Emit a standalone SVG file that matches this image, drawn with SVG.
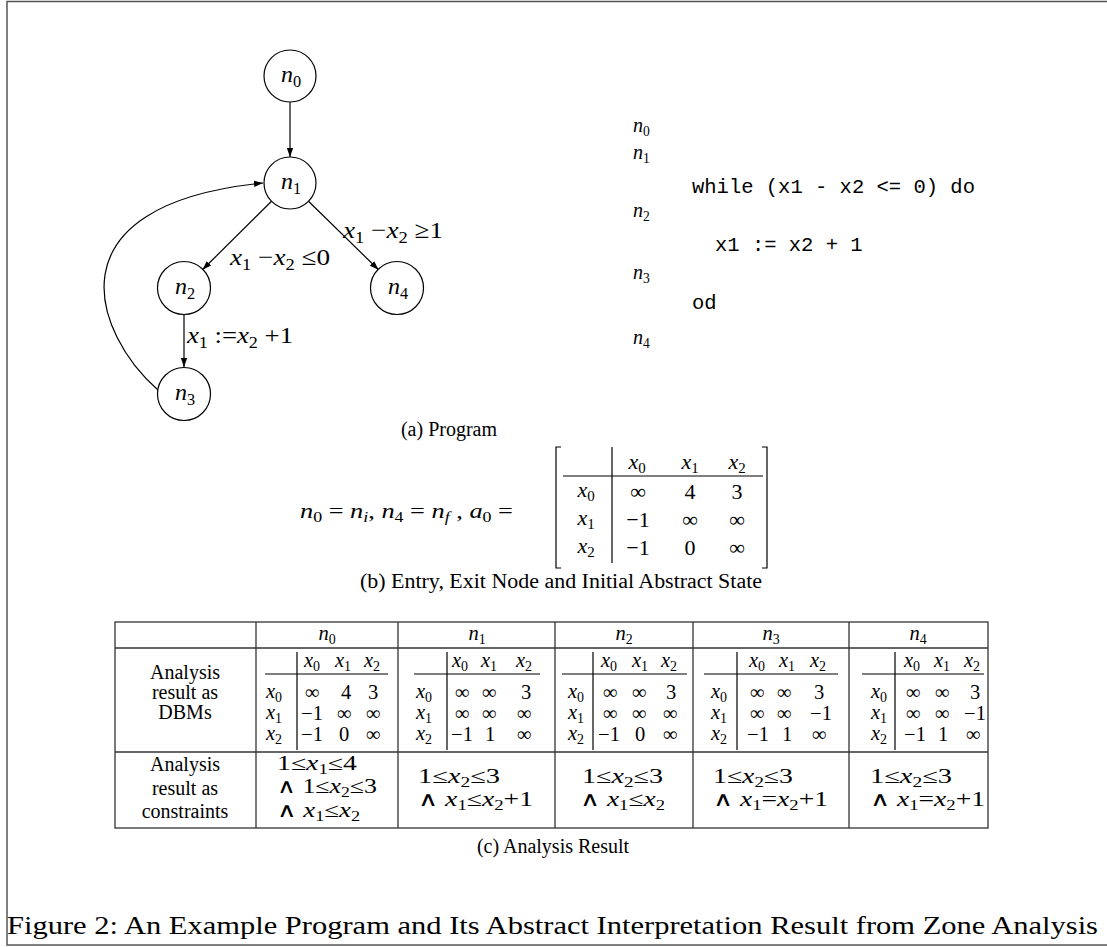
<svg xmlns="http://www.w3.org/2000/svg" width="1107" height="947" viewBox="0 0 1107 947">
<defs>
<marker id="ah" viewBox="0 0 10 10" refX="10" refY="5" markerWidth="9" markerHeight="9" markerUnits="userSpaceOnUse" orient="auto"><path d="M0,1.5 L10,5 L0,8.5 z" fill="#000"/></marker>
<style>
text{font-family:"Liberation Serif","DejaVu Serif",serif;fill:#000}
.i{font-style:italic}
.s{font-size:68%}
.g{font-size:24px}
.p{font-size:20px}
.mono{font-family:"Liberation Mono","DejaVu Sans Mono",monospace;font-size:20.5px}
.b{font-size:22px}
.tb{font-size:20.5px}
.lc{font-size:20px}
.cs{font-size:20px}
.cap{font-size:20px}
.m{text-anchor:middle}
.e{text-anchor:end}
.node{fill:#fff;stroke:#000;stroke-width:1.2}
.edge{fill:none;stroke:#000;stroke-width:1.2}
.rule{stroke:#000;stroke-width:1.2;fill:none}
.tline{stroke:#333;stroke-width:1.3;fill:none}
.frame{stroke:#555;stroke-width:1.5;fill:none}
</style>
</defs>
<rect x="0" y="0" width="1107" height="947" fill="#fff"/>
<path class="frame" d="M1107,1.5 H7 V945 H1107"/>

<!-- (a) graph -->
<g id="connectors">
<line class="edge" x1="290" y1="102" x2="290" y2="157" marker-end="url(#ah)"/>
<line class="edge" x1="271.5" y1="201.3" x2="202.5" y2="269.7" marker-end="url(#ah)"/>
<line class="edge" x1="308.5" y1="201.3" x2="378.5" y2="269.7" marker-end="url(#ah)"/>
<line class="edge" x1="184" y1="315" x2="184" y2="367" marker-end="url(#ah)"/>
<path class="edge" d="M158,390 C95,335 45,205 263,183" marker-end="url(#ah)"/>
<text class="g" x="343" y="238" textLength="100" lengthAdjust="spacingAndGlyphs"><tspan class="i">x</tspan><tspan class="s" dy="5">1</tspan><tspan dy="-5"> −</tspan><tspan class="i">x</tspan><tspan class="s" dy="5">2</tspan><tspan dy="-5"> ≥1</tspan></text>
<text class="g" x="230" y="265" textLength="100" lengthAdjust="spacingAndGlyphs"><tspan class="i">x</tspan><tspan class="s" dy="5">1</tspan><tspan dy="-5"> −</tspan><tspan class="i">x</tspan><tspan class="s" dy="5">2</tspan><tspan dy="-5"> ≤0</tspan></text>
<text class="g" x="187" y="343" textLength="106" lengthAdjust="spacingAndGlyphs"><tspan class="i">x</tspan><tspan class="s" dy="5">1</tspan><tspan dy="-5"> :=</tspan><tspan class="i">x</tspan><tspan class="s" dy="5">2</tspan><tspan dy="-5"> +1</tspan></text>
</g>
<g id="node-n0"><circle class="node" cx="290" cy="76" r="26"/><text class="g m" x="291" y="82"><tspan class="i">n</tspan><tspan class="s" dy="5">0</tspan></text></g>
<g id="node-n1"><circle class="node" cx="290" cy="183" r="26"/><text class="g m" x="291" y="189"><tspan class="i">n</tspan><tspan class="s" dy="5">1</tspan></text></g>
<g id="node-n2"><circle class="node" cx="184" cy="288" r="26.5"/><text class="g m" x="185" y="294"><tspan class="i">n</tspan><tspan class="s" dy="5">2</tspan></text></g>
<g id="node-n4"><circle class="node" cx="397" cy="288" r="26.5"/><text class="g m" x="398" y="294"><tspan class="i">n</tspan><tspan class="s" dy="5">4</tspan></text></g>
<g id="node-n3"><circle class="node" cx="184" cy="394" r="26.5"/><text class="g m" x="185" y="400"><tspan class="i">n</tspan><tspan class="s" dy="5">3</tspan></text></g>

<!-- program listing -->
<g id="program">
<text class="p" x="633" y="132"><tspan class="i">n</tspan><tspan class="s" dy="4">0</tspan></text>
<text class="p" x="633" y="159"><tspan class="i">n</tspan><tspan class="s" dy="4">1</tspan></text>
<text class="mono" x="692" y="193">while (x1 - x2 &lt;= 0) do</text>
<text class="p" x="633" y="217"><tspan class="i">n</tspan><tspan class="s" dy="4">2</tspan></text>
<text class="mono" x="715" y="251">x1 := x2 + 1</text>
<text class="p" x="633" y="279"><tspan class="i">n</tspan><tspan class="s" dy="4">3</tspan></text>
<text class="mono" x="692" y="309">od</text>
<text class="p" x="633" y="344"><tspan class="i">n</tspan><tspan class="s" dy="4">4</tspan></text>
</g>
<text class="cap m" x="449" y="436">(a) Program</text>

<!-- (b) -->
<g id="initial-state">
<text class="b" x="300" y="518" textLength="213" lengthAdjust="spacingAndGlyphs"><tspan class="i">n</tspan><tspan class="s" dy="4">0</tspan><tspan dy="-4"> = </tspan><tspan class="i">n</tspan><tspan class="s i" dy="4">i</tspan><tspan dy="-4">, </tspan><tspan class="i">n</tspan><tspan class="s" dy="4">4</tspan><tspan dy="-4"> = </tspan><tspan class="i">n</tspan><tspan class="s i" dy="4">f</tspan><tspan dy="-4"> , </tspan><tspan class="i">a</tspan><tspan class="s" dy="4">0</tspan><tspan dy="-4"> =</tspan></text>
<path class="rule" stroke-width="2" d="M561,447 H556 V568 H561"/>
<path class="rule" stroke-width="2" d="M762,447 H767 V568 H762"/>
<line class="rule" x1="612" y1="447" x2="612" y2="563"/>
<line class="rule" x1="563" y1="476" x2="763" y2="476"/>
<text class="b m" x="637" y="469"><tspan class="i">x</tspan><tspan class="s" dy="4">0</tspan></text>
<text class="b m" x="690" y="469"><tspan class="i">x</tspan><tspan class="s" dy="4">1</tspan></text>
<text class="b m" x="737" y="469"><tspan class="i">x</tspan><tspan class="s" dy="4">2</tspan></text>
<text class="b m" x="586" y="497"><tspan class="i">x</tspan><tspan class="s" dy="4">0</tspan></text>
<text class="b m" x="586" y="525"><tspan class="i">x</tspan><tspan class="s" dy="4">1</tspan></text>
<text class="b m" x="586" y="553"><tspan class="i">x</tspan><tspan class="s" dy="4">2</tspan></text>
<text class="b m" x="638" y="499">∞</text><text class="b m" x="690" y="499">4</text><text class="b m" x="737" y="499">3</text>
<text class="b m" x="638" y="527">−1</text><text class="b m" x="690" y="527">∞</text><text class="b m" x="737" y="527">∞</text>
<text class="b m" x="638" y="555">−1</text><text class="b m" x="690" y="555">0</text><text class="b m" x="737" y="555">∞</text>
</g>
<text class="cap m" x="561" y="588" textLength="402" lengthAdjust="spacingAndGlyphs">(b) Entry, Exit Node and Initial Abstract State</text>

<!-- (c) table -->
<g id="table">
<rect class="tline" x="115" y="622" width="873" height="206"/>
<line class="tline" x1="115" y1="648" x2="988" y2="648"/>
<line class="tline" x1="115" y1="752" x2="988" y2="752"/>
<line class="tline" x1="256" y1="622" x2="256" y2="828"/>
<line class="tline" x1="398" y1="622" x2="398" y2="828"/>
<line class="tline" x1="555" y1="622" x2="555" y2="828"/>
<line class="tline" x1="693" y1="622" x2="693" y2="828"/>
<line class="tline" x1="849" y1="622" x2="849" y2="828"/>
<text class="tb m" x="327" y="640"><tspan class="i">n</tspan><tspan class="s" dy="4">0</tspan></text>
<text class="tb m" x="477" y="640"><tspan class="i">n</tspan><tspan class="s" dy="4">1</tspan></text>
<text class="tb m" x="624" y="640"><tspan class="i">n</tspan><tspan class="s" dy="4">2</tspan></text>
<text class="tb m" x="771" y="640"><tspan class="i">n</tspan><tspan class="s" dy="4">3</tspan></text>
<text class="tb m" x="918" y="640"><tspan class="i">n</tspan><tspan class="s" dy="4">4</tspan></text>
<text class="lc m" x="185" y="679">Analysis</text>
<text class="lc m" x="185" y="699">result as</text>
<text class="lc m" x="185" y="719">DBMs</text>
<text class="lc m" x="185" y="771">Analysis</text>
<text class="lc m" x="185" y="795">result as</text>
<text class="lc m" x="185" y="818">constraints</text>
</g>

<g id="dbm-n0">
<line class="rule" x1="297" y1="652" x2="297" y2="750"/><line class="rule" x1="265" y1="674" x2="388" y2="674"/>
<text class="tb m" x="312" y="667"><tspan class="i">x</tspan><tspan class="s" dy="4">0</tspan></text><text class="tb m" x="343" y="667"><tspan class="i">x</tspan><tspan class="s" dy="4">1</tspan></text><text class="tb m" x="372" y="667"><tspan class="i">x</tspan><tspan class="s" dy="4">2</tspan></text>
<text class="tb m" x="274" y="698"><tspan class="i">x</tspan><tspan class="s" dy="4">0</tspan></text><text class="tb m" x="274" y="719"><tspan class="i">x</tspan><tspan class="s" dy="4">1</tspan></text><text class="tb m" x="274" y="740"><tspan class="i">x</tspan><tspan class="s" dy="4">2</tspan></text>
<text class="tb m" x="312" y="699">∞</text><text class="tb m" x="346" y="699">4</text><text class="tb m" x="373" y="699">3</text>
<text class="tb m" x="312" y="720">−1</text><text class="tb m" x="344" y="720">∞</text><text class="tb m" x="373" y="720">∞</text>
<text class="tb m" x="312" y="741">−1</text><text class="tb m" x="344" y="741">0</text><text class="tb m" x="373" y="741">∞</text>
</g>
<g id="dbm-n1">
<line class="rule" x1="447" y1="652" x2="447" y2="750"/><line class="rule" x1="414" y1="674" x2="540" y2="674"/>
<text class="tb m" x="460" y="667"><tspan class="i">x</tspan><tspan class="s" dy="4">0</tspan></text><text class="tb m" x="489" y="667"><tspan class="i">x</tspan><tspan class="s" dy="4">1</tspan></text><text class="tb m" x="524" y="667"><tspan class="i">x</tspan><tspan class="s" dy="4">2</tspan></text>
<text class="tb m" x="424" y="698"><tspan class="i">x</tspan><tspan class="s" dy="4">0</tspan></text><text class="tb m" x="424" y="719"><tspan class="i">x</tspan><tspan class="s" dy="4">1</tspan></text><text class="tb m" x="424" y="740"><tspan class="i">x</tspan><tspan class="s" dy="4">2</tspan></text>
<text class="tb m" x="462" y="699">∞</text><text class="tb m" x="489" y="699">∞</text><text class="tb m" x="526" y="699">3</text>
<text class="tb m" x="462" y="720">∞</text><text class="tb m" x="489" y="720">∞</text><text class="tb m" x="524" y="720">∞</text>
<text class="tb m" x="462" y="741">−1</text><text class="tb m" x="490" y="741">1</text><text class="tb m" x="524" y="741">∞</text>
</g>
<g id="dbm-n2">
<line class="rule" x1="593" y1="652" x2="593" y2="750"/><line class="rule" x1="562" y1="674" x2="687" y2="674"/>
<text class="tb m" x="609" y="667"><tspan class="i">x</tspan><tspan class="s" dy="4">0</tspan></text><text class="tb m" x="640" y="667"><tspan class="i">x</tspan><tspan class="s" dy="4">1</tspan></text><text class="tb m" x="669" y="667"><tspan class="i">x</tspan><tspan class="s" dy="4">2</tspan></text>
<text class="tb m" x="576" y="698"><tspan class="i">x</tspan><tspan class="s" dy="4">0</tspan></text><text class="tb m" x="576" y="719"><tspan class="i">x</tspan><tspan class="s" dy="4">1</tspan></text><text class="tb m" x="576" y="740"><tspan class="i">x</tspan><tspan class="s" dy="4">2</tspan></text>
<text class="tb m" x="610" y="699">∞</text><text class="tb m" x="639" y="699">∞</text><text class="tb m" x="671" y="699">3</text>
<text class="tb m" x="610" y="720">∞</text><text class="tb m" x="639" y="720">∞</text><text class="tb m" x="670" y="720">∞</text>
<text class="tb m" x="609" y="741">−1</text><text class="tb m" x="640" y="741">0</text><text class="tb m" x="670" y="741">∞</text>
</g>
<g id="dbm-n3">
<line class="rule" x1="737" y1="652" x2="737" y2="750"/><line class="rule" x1="704" y1="674" x2="838" y2="674"/>
<text class="tb m" x="757" y="667"><tspan class="i">x</tspan><tspan class="s" dy="4">0</tspan></text><text class="tb m" x="787" y="667"><tspan class="i">x</tspan><tspan class="s" dy="4">1</tspan></text><text class="tb m" x="818" y="667"><tspan class="i">x</tspan><tspan class="s" dy="4">2</tspan></text>
<text class="tb m" x="719" y="698"><tspan class="i">x</tspan><tspan class="s" dy="4">0</tspan></text><text class="tb m" x="719" y="719"><tspan class="i">x</tspan><tspan class="s" dy="4">1</tspan></text><text class="tb m" x="719" y="740"><tspan class="i">x</tspan><tspan class="s" dy="4">2</tspan></text>
<text class="tb m" x="757" y="699">∞</text><text class="tb m" x="784" y="699">∞</text><text class="tb m" x="819" y="699">3</text>
<text class="tb m" x="757" y="720">∞</text><text class="tb m" x="784" y="720">∞</text><text class="tb m" x="821" y="720">−1</text>
<text class="tb m" x="758" y="741">−1</text><text class="tb m" x="787" y="741">1</text><text class="tb m" x="819" y="741">∞</text>
</g>
<g id="dbm-n4">
<line class="rule" x1="895" y1="652" x2="895" y2="750"/><line class="rule" x1="862" y1="674" x2="984" y2="674"/>
<text class="tb m" x="912" y="667"><tspan class="i">x</tspan><tspan class="s" dy="4">0</tspan></text><text class="tb m" x="942" y="667"><tspan class="i">x</tspan><tspan class="s" dy="4">1</tspan></text><text class="tb m" x="972" y="667"><tspan class="i">x</tspan><tspan class="s" dy="4">2</tspan></text>
<text class="tb m" x="879" y="698"><tspan class="i">x</tspan><tspan class="s" dy="4">0</tspan></text><text class="tb m" x="879" y="719"><tspan class="i">x</tspan><tspan class="s" dy="4">1</tspan></text><text class="tb m" x="879" y="740"><tspan class="i">x</tspan><tspan class="s" dy="4">2</tspan></text>
<text class="tb m" x="913" y="699">∞</text><text class="tb m" x="942" y="699">∞</text><text class="tb m" x="975" y="699">3</text>
<text class="tb m" x="913" y="720">∞</text><text class="tb m" x="942" y="720">∞</text><text class="tb m" x="975" y="720">−1</text>
<text class="tb m" x="915" y="741">−1</text><text class="tb m" x="943" y="741">1</text><text class="tb m" x="973" y="741">∞</text>
</g>

<g id="constraints">
<text class="cs" x="277" y="770" textLength="80" lengthAdjust="spacingAndGlyphs">1≤<tspan class="i">x</tspan><tspan class="s" dy="4">1</tspan><tspan dy="-4">≤4</tspan></text>
<text class="cs" x="277" y="793" textLength="100" lengthAdjust="spacingAndGlyphs">∧ 1≤<tspan class="i">x</tspan><tspan class="s" dy="4">2</tspan><tspan dy="-4">≤3</tspan></text>
<text class="cs" x="277" y="817" textLength="83" lengthAdjust="spacingAndGlyphs">∧ <tspan class="i">x</tspan><tspan class="s" dy="4">1</tspan><tspan dy="-4">≤</tspan><tspan class="i">x</tspan><tspan class="s" dy="4">2</tspan></text>
<text class="cs" x="418" y="783" textLength="82" lengthAdjust="spacingAndGlyphs">1≤<tspan class="i">x</tspan><tspan class="s" dy="4">2</tspan><tspan dy="-4">≤3</tspan></text>
<text class="cs" x="418" y="806" textLength="115" lengthAdjust="spacingAndGlyphs">∧ <tspan class="i">x</tspan><tspan class="s" dy="4">1</tspan><tspan dy="-4">≤</tspan><tspan class="i">x</tspan><tspan class="s" dy="4">2</tspan><tspan dy="-4">+1</tspan></text>
<text class="cs" x="582" y="783" textLength="81" lengthAdjust="spacingAndGlyphs">1≤<tspan class="i">x</tspan><tspan class="s" dy="4">2</tspan><tspan dy="-4">≤3</tspan></text>
<text class="cs" x="580" y="806" textLength="85" lengthAdjust="spacingAndGlyphs">∧ <tspan class="i">x</tspan><tspan class="s" dy="4">1</tspan><tspan dy="-4">≤</tspan><tspan class="i">x</tspan><tspan class="s" dy="4">2</tspan></text>
<text class="cs" x="713" y="783" textLength="80" lengthAdjust="spacingAndGlyphs">1≤<tspan class="i">x</tspan><tspan class="s" dy="4">2</tspan><tspan dy="-4">≤3</tspan></text>
<text class="cs" x="713" y="806" textLength="115" lengthAdjust="spacingAndGlyphs">∧ <tspan class="i">x</tspan><tspan class="s" dy="4">1</tspan><tspan dy="-4">=</tspan><tspan class="i">x</tspan><tspan class="s" dy="4">2</tspan><tspan dy="-4">+1</tspan></text>
<text class="cs" x="870" y="783" textLength="82" lengthAdjust="spacingAndGlyphs">1≤<tspan class="i">x</tspan><tspan class="s" dy="4">2</tspan><tspan dy="-4">≤3</tspan></text>
<text class="cs" x="870" y="806" textLength="115" lengthAdjust="spacingAndGlyphs">∧ <tspan class="i">x</tspan><tspan class="s" dy="4">1</tspan><tspan dy="-4">=</tspan><tspan class="i">x</tspan><tspan class="s" dy="4">2</tspan><tspan dy="-4">+1</tspan></text>
</g>
<text class="cap m" x="553" y="853">(c) Analysis Result</text>

<text x="7" y="934" style="font-size:25px" textLength="1091" lengthAdjust="spacingAndGlyphs">Figure 2: An Example Program and Its Abstract Interpretation Result from Zone Analysis</text>
</svg>
